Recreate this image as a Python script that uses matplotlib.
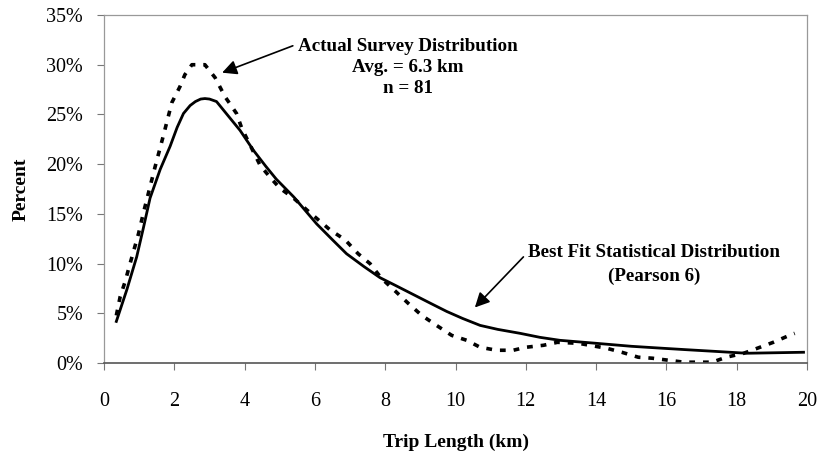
import numpy as np
import matplotlib.pyplot as plt
from matplotlib.ticker import FuncFormatter

plt.rcParams['font.family'] = ['Liberation Serif', 'DejaVu Serif']

# ---------- Data ----------
# Actual survey distribution (dashed)
survey_km = [0.35, 0.46, 0.6, 0.74, 0.98, 1.12, 1.45, 1.69, 1.93, 2.16, 2.3,
             2.5, 2.87, 3.16, 3.44, 3.77, 3.92, 4.44, 4.72, 5.0, 5.39, 5.77,
             6.1, 6.43, 6.86, 7.23, 7.57, 7.9, 8.3, 8.66, 9.04, 9.46, 9.89,
             10.32, 10.7, 11.17, 11.64, 12.0, 12.5, 12.9, 13.5, 14.3, 14.73,
             15.2, 15.6, 16.5, 17.3, 17.7, 18.2, 18.66, 19.04, 19.5, 19.65]
survey_pct = [4.8, 6.7, 8.2, 10.0, 13.0, 15.1, 19.7, 22.9, 26.2, 27.8, 29.0,
              30.0, 30.0, 28.7, 26.8, 25.1, 23.6, 19.9, 18.7, 17.6, 16.6, 15.4,
              14.4, 13.4, 12.4, 11.0, 10.0, 8.5, 7.2, 6.0, 4.8, 3.8, 2.8,
              2.3, 1.6, 1.3, 1.3, 1.6, 1.8, 2.1, 2.0, 1.5, 1.1,
              0.6, 0.5, 0.1, 0.1, 0.6, 1.0, 1.6, 2.1, 2.8, 3.0]

# Best fit Pearson 6 distribution (solid)
fit_km = [0.35, 0.65, 0.93, 1.12, 1.31, 1.6, 1.88, 2.08, 2.26, 2.45, 2.6, 2.75,
          2.87, 3.0, 3.2, 3.5, 3.87, 4.25, 4.6, 4.9, 5.4, 6.05, 6.5, 6.9, 7.4,
          7.85, 8.3, 8.8, 9.3, 9.75, 10.2, 10.7, 11.2, 11.84, 12.4, 12.97,
          14.0, 15.0, 15.9, 16.6, 17.33, 18.28, 19.1, 19.9]
fit_pct = [4.2, 7.4, 10.7, 13.6, 16.6, 19.5, 21.8, 23.7, 25.1, 25.9, 26.3, 26.55,
           26.6, 26.55, 26.3, 25.0, 23.4, 21.4, 19.8, 18.5, 16.7, 14.0, 12.4,
           11.0, 9.7, 8.6, 7.8, 6.9, 6.0, 5.2, 4.5, 3.8, 3.4, 3.0, 2.6, 2.3,
           2.0, 1.7, 1.5, 1.35, 1.2, 1.0, 1.05, 1.1]

x_ticks = list(range(0, 21, 2))
y_ticks = [0, 5, 10, 15, 20, 25, 30, 35]

# ---------- Plot ----------
fig = plt.figure(figsize=(8.23, 4.54), dpi=100)
ax = fig.add_axes([0.1264, 0.2, 0.8542, 0.767])

ax.plot(fit_km, fit_pct, color='black', linewidth=2.0, solid_joinstyle='round')
ax.plot(survey_km, survey_pct, color='black', linewidth=2.6,
        linestyle=(0, (1.6, 2.2)))

ax.set_xlim(0, 20)
ax.set_ylim(0, 35)
ax.set_xticks(x_ticks)
ax.set_yticks(y_ticks)
ax.yaxis.set_major_formatter(FuncFormatter(lambda v, p: f'{v:.0f}%'))
ax.tick_params(axis='x', labelsize=14.5, length=5, pad=16, color='#777777')
ax.tick_params(axis='y', labelsize=14.5, length=5, pad=10, color='#777777')

for side in ['top', 'right', 'left']:
    ax.spines[side].set_color('#999999')
    ax.spines[side].set_linewidth(0.9)
ax.spines['bottom'].set_color('#555555')
ax.spines['bottom'].set_linewidth(1.2)

ax.set_xlabel('Trip Length (km)', fontsize=14, fontweight='bold', labelpad=16)
ax.set_ylabel('Percent', fontsize=14, fontweight='bold', labelpad=12)

ax.annotate('Actual Survey Distribution\nAvg. = 6.3 km\nn = 81',
            xy=(3.36, 29.2), xytext=(8.65, 32.7),
            ha='center', va='top', fontsize=13.7, fontweight='bold',
            linespacing=1.3,
            arrowprops=dict(arrowstyle='-|>', color='black', lw=1.2,
                            mutation_scale=22, shrinkA=2, shrinkB=0,
                            relpos=(0.0, 0.9)))

ax.annotate('Best Fit Statistical Distribution\n(Pearson 6)',
            xy=(10.55, 5.6), xytext=(15.65, 12.0),
            ha='center', va='top', fontsize=13.7, fontweight='bold',
            linespacing=1.5,
            arrowprops=dict(arrowstyle='-|>', color='black', lw=1.2,
                            mutation_scale=22, shrinkA=2, shrinkB=0,
                            relpos=(0.0, 0.8)))

plt.savefig('out.png', dpi=100)
